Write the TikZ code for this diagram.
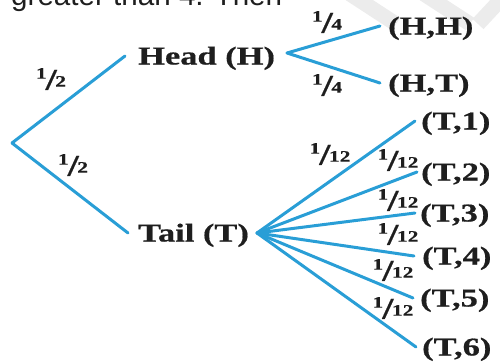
\documentclass[tikz,border=0pt]{standalone}
\usepackage{fontspec}
\setmainfont{Liberation Serif}[FakeStretch=1.34,FakeBold=0.6]
\newfontfamily\topfont{Liberation Sans}
\definecolor{branchblue}{RGB}{41,158,214}
\definecolor{ink}{RGB}{30,30,30}
\definecolor{wmark}{RGB}{236,236,236}
\newcommand\probfr[2]{\raisebox{8pt}{\fontsize{16}{16}\selectfont#1}\kern-1pt\raisebox{-3pt}{\fontsize{30}{30}\selectfont/}\kern-1.5pt{\fontsize{16}{16}\selectfont#2}}
\begin{document}
\begin{tikzpicture}[x=1pt,y=-1pt,
  branch/.style={draw=branchblue, line width=3pt, line cap=round},
  lbl/.style={inner ysep=0pt, text height=17pt, text depth=0pt, text=ink,
    font=\bfseries\fontsize{25.7}{30}\selectfont, anchor=west},
  prob/.style={inner sep=0pt, text=ink, font=\bfseries},
  wm/.style={draw=wmark, line width=15pt}]
\useasboundingbox (0,0) rectangle (500,362);
\clip (0,0) rectangle (500,362);
% faint watermark
\path[wm] (350,-6) -- (396,24);
\path[wm] (424,-6) -- (470,24);
\path[wm] (506,-6) -- (478,24);
% clipped text line at the top
\node[anchor=base west, inner sep=0pt, text=ink, font=\topfont\fontsize{29.6}{30}\selectfont] (topline) at (11,5) {greater than 4. Then};
% nodes
\coordinate (root) at (12,143);
\node[lbl, inner xsep=13pt] (head) at (125,56) {Head (H)};
\node[lbl, inner xsep=10pt] (tail) at (128,233) {Tail (T)};
\coordinate (hA) at (287,53);
\coordinate (tA) at (257,233);
\node[lbl, inner xsep=8pt] (hh) at (380,26) {(H,H)};
\node[lbl, inner xsep=8pt] (ht) at (380,83) {(H,T)};
\node[lbl, inner xsep=6pt] (t1) at (415,121) {(T,1)};
\node[lbl, inner xsep=4pt] (t2) at (417,172) {(T,2)};
\node[lbl, inner xsep=5pt] (t3) at (415,213) {(T,3)};
\node[lbl, inner xsep=8pt] (t4) at (414,256) {(T,4)};
\node[lbl, inner xsep=7pt] (t5) at (413,298) {(T,5)};
\node[lbl, inner xsep=6pt] (t6) at (416,347) {(T,6)};
% connectors
\draw[branch] (root) -- (head.west);
\draw[branch] (root) -- (tail.west);
\foreach \n in {hh,ht} \draw[branch] (hA) -- (\n.west);
\foreach \n in {t1,t2,t3,t4,t5,t6} \draw[branch] (tA) -- (\n.west);
% probabilities
\node[prob] (p1) at (51,79) {\probfr{1}{2}};
\node[prob] (p2) at (73,165) {\probfr{1}{2}};
\node[prob] (p3) at (327,22) {\probfr{1}{4}};
\node[prob] (p4) at (327,85) {\probfr{1}{4}};
\node[prob] (q1) at (330,154) {\probfr{1}{12}};
\node[prob] (q2) at (398,160) {\probfr{1}{12}};
\node[prob] (q3) at (398,200) {\probfr{1}{12}};
\node[prob] (q4) at (398,234) {\probfr{1}{12}};
\node[prob] (q5) at (393,270) {\probfr{1}{12}};
\node[prob] (q6) at (393,308) {\probfr{1}{12}};
\end{tikzpicture}
\end{document}
